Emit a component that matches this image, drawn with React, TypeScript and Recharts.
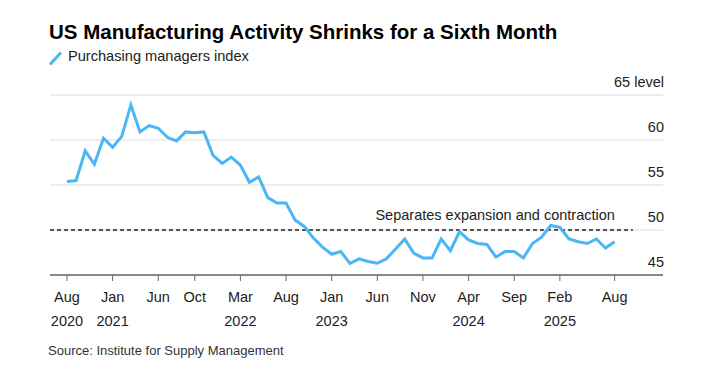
import { LineChart, Line, XAxis, YAxis, CartesianGrid, ReferenceLine } from 'recharts';

// ISM manufacturing PMI, monthly, Aug 2020 .. Aug 2025
const pmiValues = [
  55.4, 55.5, 58.8, 57.3, 60.2, 59.2, 60.4, 63.9, 60.9, 61.6,
  61.3, 60.3, 59.9, 60.9, 60.8, 60.9, 58.3, 57.4, 58.1, 57.2,
  55.3, 55.9, 53.6, 53.0, 53.0, 51.1, 50.4, 49.1, 48.1, 47.3,
  47.6, 46.3, 46.8, 46.5, 46.3, 46.8, 47.9, 49.0, 47.4, 46.9,
  46.9, 49.0, 47.7, 49.8, 48.9, 48.5, 48.4, 47.0, 47.6, 47.6,
  46.9, 48.5, 49.2, 50.5, 50.3, 49.0, 48.7, 48.5, 49.0, 48.0, 48.7,
];

// month offsets from Aug 2020 that get a tick
const tickIndex = [0, 5, 10, 14, 19, 24, 29, 34, 39, 44, 49, 54, 60];
const tickMonth = ['Aug', 'Jan', 'Jun', 'Oct', 'Mar', 'Aug', 'Jan', 'Jun', 'Nov', 'Apr', 'Sep', 'Feb', 'Aug'];
const tickYear = ['2020', '2021', '', '', '2022', '', '2023', '', '', '2024', '', '2025', ''];

const yTicks = [45, 50, 55, 60, 65];

const data = pmiValues.map((v, i) => ({ idx: i, pmi: v }));

const FONT = '"Liberation Sans", Arial, Helvetica, sans-serif';
const BLUE = '#4ab6f4';

const MonthTick = (props: any) => {
  const { x, y, payload } = props;
  const k = tickIndex.indexOf(payload.value);
  return (
    <g>
      <text x={x} y={y + 19} textAnchor="middle" fontSize={14.5} fill="#222" fontFamily={FONT}>
        {tickMonth[k]}
      </text>
      {tickYear[k] && (
        <text x={x} y={y + 43} textAnchor="middle" fontSize={14.5} fill="#222" fontFamily={FONT}>
          {tickYear[k]}
        </text>
      )}
    </g>
  );
};

const LevelTick = (props: any) => {
  const { x, y, payload } = props;
  return (
    <text x={x + 1} y={y - 8} textAnchor="end" fontSize={14.5} fill="#222" fontFamily={FONT}>
      {payload.value === 65 ? '65 level' : payload.value}
    </text>
  );
};

export default function App() {
  return (
    <div style={{ position: 'absolute', left: 0, top: 0, width: 706, height: 367, background: '#fff', fontFamily: FONT }}>
      <div style={{ position: 'absolute', left: 49, top: 20, fontSize: 20.5, fontWeight: 'bold', color: '#000', whiteSpace: 'nowrap' }}>
        US Manufacturing Activity Shrinks for a Sixth Month
      </div>
      <svg style={{ position: 'absolute', left: 47, top: 50 }} width={16} height={17}>
        <line x1={3} y1={14.5} x2={14} y2={2.5} stroke={BLUE} strokeWidth={3} />
      </svg>
      <div style={{ position: 'absolute', left: 68, top: 48, fontSize: 14.6, color: '#222', whiteSpace: 'nowrap' }}>
        Purchasing managers index
      </div>
      <div style={{ position: 'absolute', left: 48, top: 343, fontSize: 13, color: '#333', whiteSpace: 'nowrap' }}>
        Source: Institute for Supply Management
      </div>
      <div style={{ position: 'absolute', left: 0, top: 0 }}>
        <LineChart width={706} height={367} data={data} margin={{ top: 95, right: 3, bottom: 52, left: 50 }}>
          <CartesianGrid vertical={false} stroke="#dddddd" strokeWidth={1} />
          <XAxis
            dataKey="idx"
            type="number"
            domain={[-1.86, 65.3]}
            ticks={tickIndex}
            interval={0}
            height={40}
            tick={<MonthTick />}
            tickSize={6}
            stroke="#666"
            axisLine={{ stroke: '#666', strokeWidth: 1.5 }}
            tickLine={{ stroke: '#666' }}
          />
          <YAxis
            orientation="right"
            width={40}
            domain={[45, 65]}
            ticks={yTicks}
            interval={0}
            tickSize={0}
            tickMargin={0}
            axisLine={false}
            tickLine={false}
            tick={<LevelTick />}
          />
          <ReferenceLine
            segment={[{ x: -1.86, y: 50 }, { x: 62, y: 50 }]}
            stroke="#222"
            strokeDasharray="4 3"
            strokeWidth={1.3}
            label={{ value: 'Separates expansion and contraction', position: 'insideTopRight', offset: 0, dy: -20, dx: -18, fontSize: 14.5, fill: '#222', fontFamily: FONT }}
          />
          <Line type="linear" dataKey="pmi" stroke={BLUE} strokeWidth={3} dot={false} isAnimationActive={false} />
        </LineChart>
      </div>
    </div>
  );
}
